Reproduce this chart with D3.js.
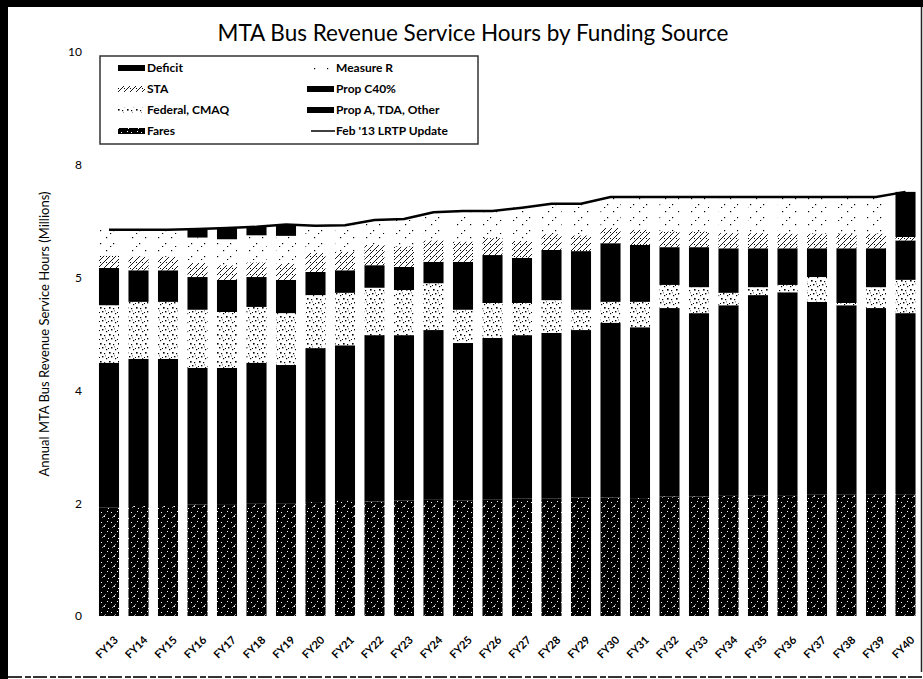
<!DOCTYPE html>
<html><head><meta charset="utf-8">
<script src="https://cdn.jsdelivr.net/npm/d3@7"></script>
<style>
body{margin:0;background:#fff}
svg{display:block}
text{font-family:Lato,"Open Sans",sans-serif;fill:#000}
</style>
</head><body>
<svg id="c" width="923" height="679"></svg>
<script>
// ---------- data (millions of annual revenue service hours) ----------
const years = ["FY13","FY14","FY15","FY16","FY17","FY18","FY19","FY20","FY21","FY22","FY23","FY24","FY25","FY26",
               "FY27","FY28","FY29","FY30","FY31","FY32","FY33","FY34","FY35","FY36","FY37","FY38","FY39","FY40"];
const fares   = [1.92,1.95,1.95,1.98,1.97,2.00,2.00,2.02,2.04,2.03,2.05,2.06,2.05,2.07,2.08,2.08,2.10,2.10,2.09,2.12,2.12,2.13,2.14,2.13,2.15,2.15,2.16,2.16];
const propA   = [2.57,2.61,2.61,2.42,2.43,2.49,2.45,2.73,2.76,2.95,2.93,3.01,2.79,2.86,2.90,2.94,2.97,3.10,3.03,3.34,3.25,3.38,3.55,3.61,3.42,3.36,3.30,3.21];
const federal = [1.02,1.01,1.01,1.03,0.99,0.99,0.92,0.94,0.93,0.84,0.80,0.83,0.59,0.62,0.57,0.58,0.36,0.37,0.45,0.41,0.46,0.22,0.14,0.13,0.44,0.04,0.37,0.59];
const propC   = [0.66,0.56,0.56,0.58,0.57,0.53,0.59,0.41,0.40,0.40,0.41,0.38,0.85,0.85,0.80,0.89,1.04,1.04,1.01,0.67,0.71,0.79,0.69,0.65,0.51,0.97,0.69,0.70];
const sta     = [0.22,0.24,0.24,0.25,0.26,0.26,0.28,0.34,0.33,0.36,0.36,0.38,0.36,0.30,0.30,0.28,0.28,0.27,0.27,0.28,0.28,0.27,0.27,0.26,0.26,0.26,0.26,0.06];
const measureR= [0.46,0.48,0.48,0.45,0.46,0.48,0.50,0.48,0.47,0.44,0.49,0.50,0.54,0.48,0.59,0.54,0.56,0.55,0.58,0.61,0.63,0.64,0.64,0.65,0.65,0.65,0.65,0.00];
const deficit = [0.00,0.00,0.00,0.15,0.20,0.15,0.20,0.00,0.00,0.00,0.00,0.00,0.00,0.00,0.00,0.00,0.00,0.00,0.00,0.00,0.00,0.00,0.00,0.00,0.00,0.00,0.00,0.80];
const lrtp    = [6.85,6.85,6.85,6.86,6.88,6.90,6.94,6.92,6.93,7.02,7.04,7.16,7.18,7.18,7.24,7.31,7.31,7.43,7.43,7.43,7.43,7.43,7.43,7.43,7.43,7.43,7.43,7.52];
const seriesKeys = ["Fares","Prop A, TDA, Other","Federal, CMAQ","Prop C40%","STA","Measure R","Deficit"];
const lineName = "Feb '13 LRTP Update";
const yTickValues = [0,2,4,6,8,10];
const yTickLabels = ["0","2","4","5","8","10"];
const titleText = "MTA Bus Revenue Service Hours by Funding Source";
const yTitle = "Annual MTA Bus Revenue Service Hours (Millions)";

const seriesArrays = [fares, propA, federal, propC, sta, measureR, deficit];
const table = years.map((y,i)=>{
  const r = {year:y};
  seriesKeys.forEach((k,j)=>r[k]=seriesArrays[j][i]);
  return r;
});

// ---------- drawing ----------
const svg = d3.select("#c");
svg.append("rect").attr("width",923).attr("height",679).attr("fill","#fff");

const defs = svg.append("defs");
function pat(id, size, bg, build){
  const p = defs.append("pattern").attr("id",id).attr("patternUnits","userSpaceOnUse")
    .attr("width",size).attr("height",size);
  p.append("rect").attr("width",size).attr("height",size).attr("fill",bg);
  build(p);
}
pat("pFares",10,"#000",p=>{
  p.append("path").attr("d","M2,8L6,4").attr("stroke","#fff").attr("stroke-width",0.6);
  [[1,2],[7,1],[4,6],[8,8]].forEach(d=>
    p.append("rect").attr("x",d[0]).attr("y",d[1]).attr("width",1).attr("height",1).attr("fill","#fff"));
});
pat("pFed",9,"#fff",p=>{
  [[1,1,1.6],[5,2,1.2],[3,5,1.4],[7,7,1.2],[0,6,1],[6,4.5,0.8]].forEach(d=>
    p.append("rect").attr("x",d[0]).attr("y",d[1]).attr("width",d[2]).attr("height",d[2]).attr("fill","#000"));
});
pat("pSta",6,"#fff",p=>{
  p.append("path").attr("d","M0,6L6,0M-1.5,1.5L1.5,-1.5M4.5,7.5L7.5,4.5").attr("stroke","#000").attr("stroke-width",0.9);
  p.append("rect").attr("x",4).attr("y",4).attr("width",1).attr("height",1).attr("fill","#000");
});
pat("pMR",13,"#fff",p=>{
  [[2,3],[9,9],[6,12]].forEach(d=>
    p.append("rect").attr("x",d[0]).attr("y",d[1]).attr("width",1.2).attr("height",1.2).attr("fill","#000"));
});

const fills = {
  "Fares":"url(#pFares)",
  "Prop A, TDA, Other":"#000",
  "Federal, CMAQ":"url(#pFed)",
  "Prop C40%":"#000",
  "STA":"url(#pSta)",
  "Measure R":"url(#pMR)",
  "Deficit":"#000"
};

const x = d3.scaleBand().domain(years).range([94.25,920.25]).paddingInner(0.32).paddingOuter(0.16);
const y = d3.scaleLinear().domain([0,10]).range([616,52]);

const stack = d3.stack().keys(seriesKeys)(table);
svg.append("g").selectAll("g").data(stack).join("g")
  .attr("fill",d=>fills[d.key])
  .selectAll("rect").data(d=>d).join("rect")
  .attr("x",d=>x(d.data.year))
  .attr("width",x.bandwidth())
  .attr("y",d=>y(d[1]))
  .attr("height",d=>Math.max(0,y(d[0])-y(d[1])));

// LRTP line
svg.append("path")
  .datum(lrtp)
  .attr("fill","none").attr("stroke","#000").attr("stroke-width",2.5)
  .attr("d",d3.line().x((d,i)=>x(years[i])+x.bandwidth()/2).y(d=>y(d)));

// Y axis
const yAxis = d3.axisLeft(y).tickValues(yTickValues)
  .tickFormat((d,i)=>yTickLabels[i]).tickSize(0).tickPadding(0);
const ya = svg.append("g").attr("transform","translate(82,0)").call(yAxis);
ya.select(".domain").remove();
ya.selectAll("text").style("font-family","Lato,sans-serif").style("font-size","12px").attr("fill","#000");

// X axis labels
const xa = svg.append("g");
xa.selectAll("text").data(years).join("text")
  .attr("transform",d=>`translate(${x(d)+x.bandwidth()/2+7},638) rotate(-45)`)
  .attr("text-anchor","end").attr("dy","0.35em")
  .style("font-size","11px").style("font-weight","bold")
  .text(d=>d);

// Title
svg.append("text").attr("x",473).attr("y",41).attr("text-anchor","middle")
  .style("font-size","22.5px").text(titleText);
// Y title
svg.append("text").attr("transform","translate(49,334) rotate(-90)")
  .attr("text-anchor","middle").style("font-size","13px").text(yTitle);

// Legend
const lg = svg.append("g");
lg.append("rect").attr("x",100).attr("y",56).attr("width",378).attr("height",88)
  .attr("fill","#fff").attr("stroke","#333").attr("stroke-width",1.5);
const legendRows = [["Deficit","Measure R"],["STA","Prop C40%"],["Federal, CMAQ","Prop A, TDA, Other"],["Fares",lineName]];
const rowY = [68,89,110,131];
const colX = [118,307];
legendRows.forEach((row,ri)=>{
  row.forEach((name,ci)=>{
    const sx = colX[ci], cy = rowY[ri];
    if(name===lineName){
      lg.append("line").attr("x1",sx+4).attr("x2",sx+28).attr("y1",cy).attr("y2",cy)
        .attr("stroke","#000").attr("stroke-width",1.5);
    } else {
      lg.append("rect").attr("x",sx).attr("y",cy-3).attr("width",27).attr("height",6)
        .attr("fill",fills[name]);
    }
    lg.append("text").attr("x",sx+29).attr("y",cy).attr("dy","0.35em")
      .style("font-size","12px").style("font-weight","bold").text(name);
  });
});

// scan frame
svg.append("rect").attr("x",0).attr("y",0).attr("width",923).attr("height",7).attr("fill","#000");
svg.append("rect").attr("x",0).attr("y",0).attr("width",8).attr("height",679).attr("fill","#000");
svg.append("line").attr("x1",921.5).attr("x2",921.5).attr("y1",7).attr("y2",672).attr("stroke","#222").attr("stroke-width",1.5);
svg.append("line").attr("x1",8).attr("x2",923).attr("y1",677).attr("y2",677)
  .attr("stroke","#333").attr("stroke-width",2).attr("stroke-dasharray","14,3,6,2");
</script>
</body></html>
